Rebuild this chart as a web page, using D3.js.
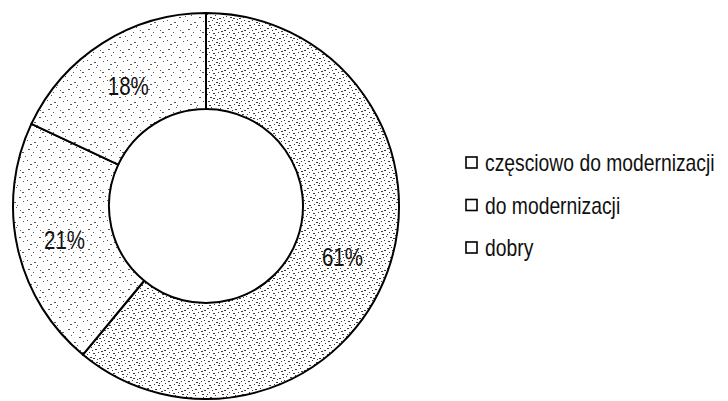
<!DOCTYPE html>
<html>
<head>
<meta charset="utf-8">
<script src="https://cdn.jsdelivr.net/npm/d3@7/dist/d3.min.js"></script>
<style>
  html, body { margin: 0; padding: 0; background: #fff; }
  svg { display: block; }
  text { font-family: "Liberation Sans", Arial, sans-serif; fill: #111; }
</style>
</head>
<body>
<svg id="chart" width="728" height="401"></svg>
<script>
// ---- data ----
const categories = ["częsciowo do modernizacji", "do modernizacji", "dobry"];
const values = [61, 21, 18];
const valueLabels = ["61%", "21%", "18%"];

// ---- layout ----
const cx = 206, cy = 206, outerR = 193, innerR = 97;
const narrow = 0.82; // emulate a condensed face

const svg = d3.select("#chart");
const defs = svg.append("defs");

// stipple textures (fixed speck layouts)
const denseSpecks = [[1,2,2],[5,1,1],[9,3,2],[14,2,1],[18,4,2],[3,6,1],[7,7,2],[12,6,1],[16,8,2],[0,10,1],
  [4,11,2],[9,9,1],[13,12,2],[17,11,1],[2,15,2],[6,14,1],[10,16,2],[15,15,1],[19,17,1],[3,19,2],
  [8,18,1],[12,19,2],[16,19,1],[11,13,1],[6,4,1],[15,5,2],[1,8,1],[7,12,2],[18,14,1],[13,17,1]];
const lightSpecks = [[2,3,2],[10,1,1],[16,6,2],[5,9,1],[13,11,2],[1,14,1],[8,16,2],[17,15,1],[11,19,1],[4,18,2],[14,4,1],[7,6,1],[19,10,1]];

function makePattern(id, specks, color) {
  const p = defs.append("pattern").attr("id", id).attr("patternUnits", "userSpaceOnUse")
    .attr("width", 20).attr("height", 20);
  p.append("rect").attr("width", 20).attr("height", 20).attr("fill", "#fff");
  p.selectAll("rect.s").data(specks).enter().append("rect").attr("class", "s")
    .attr("x", d => d[0]).attr("y", d => d[1]).attr("width", d => d[2]).attr("height", 1)
    .attr("fill", color);
}
makePattern("dense", denseSpecks, "#3a3a3a");
makePattern("light", lightSpecks, "#555");
const fills = ["url(#dense)", "url(#light)", "url(#light)"];

const pie = d3.pie().sort(null).value(d => d)(values);
const arc = d3.arc().innerRadius(innerR).outerRadius(outerR);
const labelArc = d3.arc().innerRadius((innerR + outerR) / 2).outerRadius((innerR + outerR) / 2);

const g = svg.append("g").attr("transform", `translate(${cx},${cy})`);
g.selectAll("path").data(pie).enter().append("path")
  .attr("d", arc)
  .attr("fill", (d, i) => fills[i])
  .attr("stroke", "#000").attr("stroke-width", 2).attr("stroke-linejoin", "round");

g.selectAll("text.lbl").data(pie).enter().append("text").attr("class", "lbl")
  .attr("transform", d => { const c = labelArc.centroid(d); return `translate(${c[0]},${c[1] + 2}) scale(${narrow},1)`; })
  .attr("text-anchor", "middle").attr("dy", "0.36em")
  .style("font-size", "25px")
  .text((d, i) => valueLabels[i]);

// legend
const legendY = d3.scalePoint().domain(categories).range([163, 248]);
const lg = svg.append("g");
const items = lg.selectAll("g").data(categories).enter().append("g")
  .attr("transform", d => `translate(466,${legendY(d)})`);
items.append("rect").attr("x", 0).attr("y", -6).attr("width", 11).attr("height", 11)
  .attr("fill", "#fff").attr("stroke", "#000").attr("stroke-width", 1.6);
items.append("text").attr("transform", `translate(19,0) scale(0.84,1)`).attr("dy", "0.36em")
  .style("font-size", "23px").text(d => d);
</script>
</body>
</html>
